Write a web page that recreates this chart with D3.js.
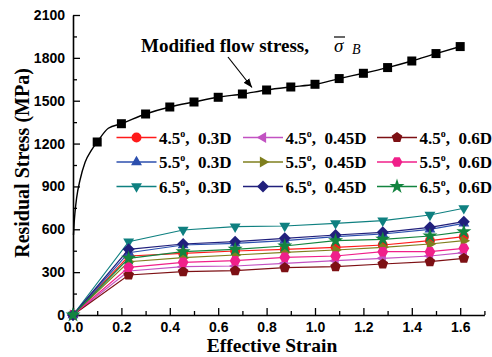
<!DOCTYPE html>
<html>
<head>
<meta charset="utf-8">
<script src="https://cdn.jsdelivr.net/npm/d3@7"></script>
<style>
  html, body { margin: 0; padding: 0; background: #fff; }
  svg { display: block; }
  text { white-space: pre; }
</style>
</head>
<body>
<svg id="chart" width="492" height="357"></svg>
<script>
// ---------------- DATA ----------------
const strains = [0, 0.23, 0.455, 0.67, 0.875, 1.085, 1.28, 1.475, 1.615];

const s45_03  = [0, 413, 432, 448, 460, 474, 490, 520, 548];
const s45_045 = [0, 308, 338, 343, 362, 380, 397, 413, 436];
const s45_06  = [0, 280, 303, 310, 331, 338, 357, 373, 397];
const s55_03  = [0, 436, 490, 502, 520, 548, 567, 600, 642];
const s55_045 = [0, 373, 401, 420, 439, 455, 474, 497, 520];
const s55_06  = [0, 334, 369, 380, 404, 413, 443, 443, 467];
const s65_03  = [0, 513, 595, 618, 623, 642, 660, 700, 747];
const s65_045 = [0, 460, 497, 513, 537, 560, 579, 614, 653];
const s65_06  = [0, 397, 443, 460, 483, 520, 530, 553, 583];

const seriesAngles = ["4.5", "4.5", "4.5", "5.5", "5.5", "5.5", "6.5", "6.5", "6.5"];
const seriesDepths = ["0.3D", "0.45D", "0.6D", "0.3D", "0.45D", "0.6D", "0.3D", "0.45D", "0.6D"];

// modified flow stress curve (markers) and its initial rising part (line only)
const flowStrain = [0.1, 0.2, 0.3, 0.4, 0.5, 0.6, 0.7, 0.8, 0.9, 1.0, 1.1, 1.2, 1.3, 1.4, 1.5, 1.6];
const flowStress = [1211, 1339, 1407, 1456, 1491, 1524, 1547, 1575, 1596, 1615, 1655, 1692, 1732, 1778, 1830, 1879];
const initStrain = [0.002, 0.005, 0.008, 0.015, 0.029, 0.05, 0.075];
const initStress = [560, 650, 714, 820, 945, 1070, 1150];
const kinkStrain = [0.146];
const kinkStress = [1307];

const xTicks = [0, 0.2, 0.4, 0.6, 0.8, 1.0, 1.2, 1.4, 1.6];
const yTicks = [0, 300, 600, 900, 1200, 1500, 1800, 2100];

// ---------------- STYLE ----------------
const styles = [
  { color: "#ff1a1a", shape: "circle" },
  { color: "#c252c2", shape: "triL" },
  { color: "#7d1014", shape: "pent" },
  { color: "#2c4fae", shape: "triU" },
  { color: "#7f7f1e", shape: "triR" },
  { color: "#f0208a", shape: "hex" },
  { color: "#0f8080", shape: "triD" },
  { color: "#21207c", shape: "diamond" },
  { color: "#13843f", shape: "star" }
];
const allSeries = [s45_03, s45_045, s45_06, s55_03, s55_045, s55_06, s65_03, s65_045, s65_06];

const svg = d3.select("#chart");
const x = d3.scaleLinear().domain([0, 1.7]).range([73, 484.4]);
const y = d3.scaleLinear().domain([0, 2100]).range([315, 15]);

function polygon(n, r, rot) {
  const pts = [];
  for (let i = 0; i < n; i++) {
    const a = rot + i * 2 * Math.PI / n;
    pts.push([r * Math.cos(a), r * Math.sin(a)]);
  }
  return "M" + pts.map(p => p[0].toFixed(2) + "," + p[1].toFixed(2)).join("L") + "Z";
}
function markerPath(shape) {
  switch (shape) {
    case "circle": return d3.symbol(d3.symbolCircle, 78)();
    case "triU": return polygon(3, 6.3, -Math.PI / 2);
    case "triD": return polygon(3, 6.3, Math.PI / 2);
    case "triL": return polygon(3, 6.3, Math.PI);
    case "triR": return polygon(3, 6.3, 0);
    case "pent": return polygon(5, 5.6, -Math.PI / 2);
    case "hex": return polygon(6, 5.4, 0);
    case "diamond": return polygon(4, 6.0, 0);
    case "star": return d3.symbol(d3.symbolStar, 70)();
  }
}

// ---------------- AXES ----------------
const axisG = svg.append("g");
const xMinor = d3.range(0.1, 1.71, 0.2);
const yMinor = d3.range(150, 2100, 300);

const xAxis = d3.axisBottom(x).tickValues(xTicks).tickFormat(d3.format(".1f")).tickSizeInner(-7).tickSizeOuter(0).tickPadding(10);
const yAxis = d3.axisLeft(y).tickValues(yTicks).tickFormat(d3.format("d")).tickSizeInner(-7).tickSizeOuter(0).tickPadding(7);

const gx = axisG.append("g").attr("transform", `translate(0,${y(0)})`).call(xAxis);
const gy = axisG.append("g").attr("transform", `translate(${x(0)},0)`).call(yAxis);
axisG.append("g").attr("transform", `translate(0,${y(0)})`)
  .call(d3.axisBottom(x).tickValues(xMinor).tickFormat("").tickSizeInner(-4).tickSizeOuter(0))
  .select(".domain").remove();
axisG.append("g").attr("transform", `translate(${x(0)},0)`)
  .call(d3.axisLeft(y).tickValues(yMinor).tickFormat("").tickSizeInner(-4).tickSizeOuter(0))
  .select(".domain").remove();

axisG.selectAll(".domain").attr("stroke", "#000").attr("stroke-width", 1.6);
axisG.selectAll(".tick line").attr("stroke", "#000").attr("stroke-width", 1.3);
axisG.selectAll(".tick text")
  .attr("font-family", "Liberation Sans, Arial, sans-serif")
  .attr("font-weight", "bold").attr("font-size", 14).attr("fill", "#000");
gx.selectAll(".tick text").attr("y", 17).attr("dy", "0");
gy.selectAll(".tick text").attr("dx", "-1");

// axis titles
svg.append("text")
  .attr("x", 272).attr("y", 352)
  .attr("text-anchor", "middle")
  .attr("font-family", "Liberation Serif, Times New Roman, serif")
  .attr("font-weight", "bold").attr("font-size", 19.5)
  .text("Effective Strain");
svg.append("text")
  .attr("transform", "translate(29,163) rotate(-90)")
  .attr("text-anchor", "middle")
  .attr("font-family", "Liberation Serif, Times New Roman, serif")
  .attr("font-weight", "bold").attr("font-size", 20)
  .text("Residual Stress (MPa)");

// ---------------- FLOW STRESS CURVE ----------------
const curvePts = [];
initStrain.forEach((s, i) => curvePts.push([s, initStress[i]]));
flowStrain.forEach((s, i) => curvePts.push([s, flowStress[i]]));
kinkStrain.forEach((s, i) => curvePts.push([s, kinkStress[i]]));
curvePts.sort((a, b) => a[0] - b[0]);

const plot = svg.append("g");
plot.append("path")
  .datum(curvePts)
  .attr("fill", "none").attr("stroke", "#000").attr("stroke-width", 1.4)
  .attr("d", d3.line().x(d => x(d[0])).y(d => y(d[1])).curve(d3.curveMonotoneX));
plot.selectAll(".flowMark")
  .data(flowStrain.map((s, i) => [s, flowStress[i]]))
  .join("rect")
  .attr("x", d => x(d[0]) - 4.5).attr("y", d => y(d[1]) - 4.5)
  .attr("width", 9).attr("height", 9).attr("fill", "#000");

// ---------------- SERIES ----------------
const lineGen = d3.line().x(d => x(d[0])).y(d => y(d[1]));
allSeries.forEach((vals, k) => {
  const pts = strains.map((s, i) => [s, vals[i]]);
  const st = styles[k];
  const g = plot.append("g");
  g.append("path").datum(pts)
    .attr("fill", "none").attr("stroke", st.color).attr("stroke-width", 1.2)
    .attr("d", lineGen);
  g.selectAll("path.m").data(pts).join("path")
    .attr("class", "m")
    .attr("transform", d => `translate(${x(d[0])},${y(d[1])})`)
    .attr("d", markerPath(st.shape))
    .attr("fill", st.color);
});

// ---------------- ANNOTATION ----------------
const ann = svg.append("g")
  .attr("font-family", "Liberation Serif, Times New Roman, serif")
  .attr("font-weight", "bold").attr("font-size", 19);
ann.append("text").attr("x", 141).attr("y", 52).text("Modified flow stress,");
ann.append("text").attr("x", 334).attr("y", 52).attr("font-style", "italic").attr("font-weight", "normal").text("σ");
ann.append("line").attr("x1", 334).attr("x2", 345).attr("y1", 37).attr("y2", 37).attr("stroke", "#000").attr("stroke-width", 1.2);
ann.append("text").attr("x", 352).attr("y", 54).attr("font-style", "italic").attr("font-weight", "normal").attr("font-size", 14).text("B");

svg.append("defs").append("marker")
  .attr("id", "ah").attr("viewBox", "0 0 10 10").attr("refX", 10).attr("refY", 5)
  .attr("markerWidth", 9).attr("markerHeight", 9).attr("markerUnits", "userSpaceOnUse")
  .attr("orient", "auto")
  .append("path").attr("d", "M0,1 L10,5 L0,9 Z").attr("fill", "#000");
svg.append("line")
  .attr("x1", 228).attr("y1", 57).attr("x2", 252).attr("y2", 87.5)
  .attr("stroke", "#000").attr("stroke-width", 1.2).attr("marker-end", "url(#ah)");

// ---------------- LEGEND ----------------
const colX = [116.5, 243, 377];
const rowY = [137.5, 162, 186.5];
const leg = svg.append("g");
allSeries.forEach((vals, k) => {
  const col = k % 3;
  const row = Math.floor(k / 3);
  const lx = colX[col], ly = rowY[row];
  const st = styles[k];
  const g = leg.append("g");
  g.append("line").attr("x1", lx).attr("x2", lx + 40).attr("y1", ly).attr("y2", ly)
    .attr("stroke", st.color).attr("stroke-width", 1.4);
  g.append("path").attr("transform", `translate(${lx + 20},${ly})`)
    .attr("d", markerPath(st.shape)).attr("fill", st.color);
  const t = g.append("text").attr("x", lx + 42.5).attr("y", ly + 6)
    .attr("font-family", "Liberation Serif, Times New Roman, serif")
    .attr("font-weight", "bold").attr("font-size", 17);
  t.append("tspan").text(seriesAngles[k]);
  t.append("tspan").attr("font-size", 10).attr("dy", -7).text("o");
  t.append("tspan").attr("dy", 7).text(",  " + seriesDepths[k]);
});
</script>
</body>
</html>
